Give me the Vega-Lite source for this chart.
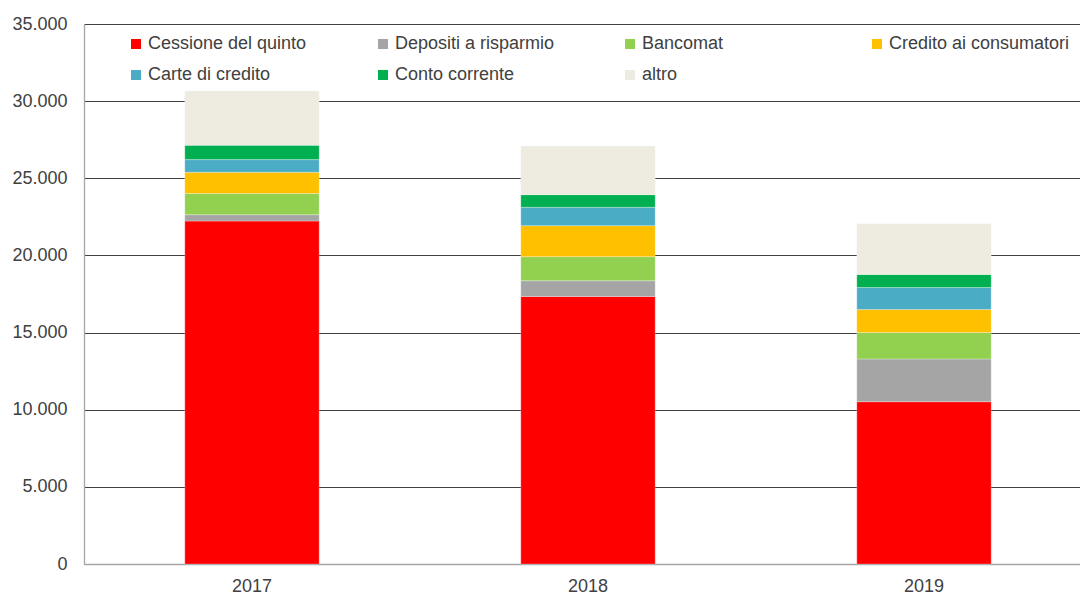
{
  "$schema": "https://vega.github.io/schema/vega-lite/v6.json",
  "width": 1008,
  "height": 540,
  "autosize": {"type": "none"},
  "padding": {"left": 84, "top": 24, "right": 0, "bottom": 31},
  "background": "#ffffff",
  "config": {
    "locale": {"number": {"decimal": ",", "thousands": ".", "grouping": [3], "currency": ["€", ""]}},
    "font": "Liberation Sans",
    "view": {"stroke": null}
  },
  "data": {
    "values": [
      {"anno": "2017", "categoria": "Cessione del quinto", "valore": 22230},
      {"anno": "2017", "categoria": "Depositi a risparmio", "valore": 410},
      {"anno": "2017", "categoria": "Bancomat", "valore": 1370},
      {"anno": "2017", "categoria": "Credito ai consumatori", "valore": 1380},
      {"anno": "2017", "categoria": "Carte di credito", "valore": 820},
      {"anno": "2017", "categoria": "Conto corrente", "valore": 930},
      {"anno": "2017", "categoria": "altro", "valore": 3530},
      {"anno": "2018", "categoria": "Cessione del quinto", "valore": 17340},
      {"anno": "2018", "categoria": "Depositi a risparmio", "valore": 1020},
      {"anno": "2018", "categoria": "Bancomat", "valore": 1560},
      {"anno": "2018", "categoria": "Credito ai consumatori", "valore": 2010},
      {"anno": "2018", "categoria": "Carte di credito", "valore": 1190},
      {"anno": "2018", "categoria": "Conto corrente", "valore": 820},
      {"anno": "2018", "categoria": "altro", "valore": 3160},
      {"anno": "2019", "categoria": "Cessione del quinto", "valore": 10520},
      {"anno": "2019", "categoria": "Depositi a risparmio", "valore": 2770},
      {"anno": "2019", "categoria": "Bancomat", "valore": 1710},
      {"anno": "2019", "categoria": "Credito ai consumatori", "valore": 1490},
      {"anno": "2019", "categoria": "Carte di credito", "valore": 1430},
      {"anno": "2019", "categoria": "Conto corrente", "valore": 850},
      {"anno": "2019", "categoria": "altro", "valore": 3290}
    ]
  },
  "transform": [
    {"calculate": "indexof(['Cessione del quinto','Depositi a risparmio','Bancomat','Credito ai consumatori','Carte di credito','Conto corrente','altro'], datum.categoria)", "as": "ordine"}
  ],
  "mark": {"type": "bar", "stroke": "#ffffff", "strokeWidth": 0.4, "strokeOpacity": 0.7},
  "encoding": {
    "x": {
      "field": "anno",
      "type": "nominal",
      "scale": {"paddingInner": 0.6, "paddingOuter": 0.3},
      "axis": {
        "title": null,
        "labelAngle": 0,
        "labelFontSize": 18,
        "labelColor": "#404040",
        "labelPadding": 13,
        "ticks": false,
        "domainColor": "#a6a6a6",
        "domainWidth": 1.3
      }
    },
    "y": {
      "field": "valore",
      "type": "quantitative",
      "stack": "zero",
      "scale": {"domain": [0, 35000], "nice": false},
      "axis": {
        "title": null,
        "values": [0, 5000, 10000, 15000, 20000, 25000, 30000, 35000],
        "format": ",d",
        "labelFontSize": 18,
        "labelColor": "#404040",
        "labelPadding": 17,
        "ticks": false,
        "domainColor": "#a6a6a6",
        "domainWidth": 1.3,
        "grid": true,
        "gridColor": "#404040",
        "gridWidth": 1.2
      }
    },
    "order": {"field": "ordine", "type": "quantitative", "sort": "ascending"},
    "color": {
      "field": "categoria",
      "type": "nominal",
      "sort": ["Cessione del quinto", "Depositi a risparmio", "Bancomat", "Credito ai consumatori", "Carte di credito", "Conto corrente", "altro"],
      "scale": {
        "domain": ["Cessione del quinto", "Depositi a risparmio", "Bancomat", "Credito ai consumatori", "Carte di credito", "Conto corrente", "altro"],
        "range": ["#FF0000", "#A5A5A5", "#92D050", "#FFC000", "#4BACC6", "#00B050", "#EEECE1"]
      },
      "legend": {
        "title": null,
        "orient": "none",
        "direction": "horizontal",
        "legendX": 43,
        "legendY": 11,
        "columns": 4,
        "gridAlign": "all",
        "columnPadding": 45,
        "rowPadding": 13,
        "symbolType": "square",
        "symbolSize": 100,
        "symbolStrokeWidth": 0,
        "labelFontSize": 18,
        "labelColor": "#404040",
        "labelOffset": 3,
        "labelLimit": 300
      }
    }
  }
}
